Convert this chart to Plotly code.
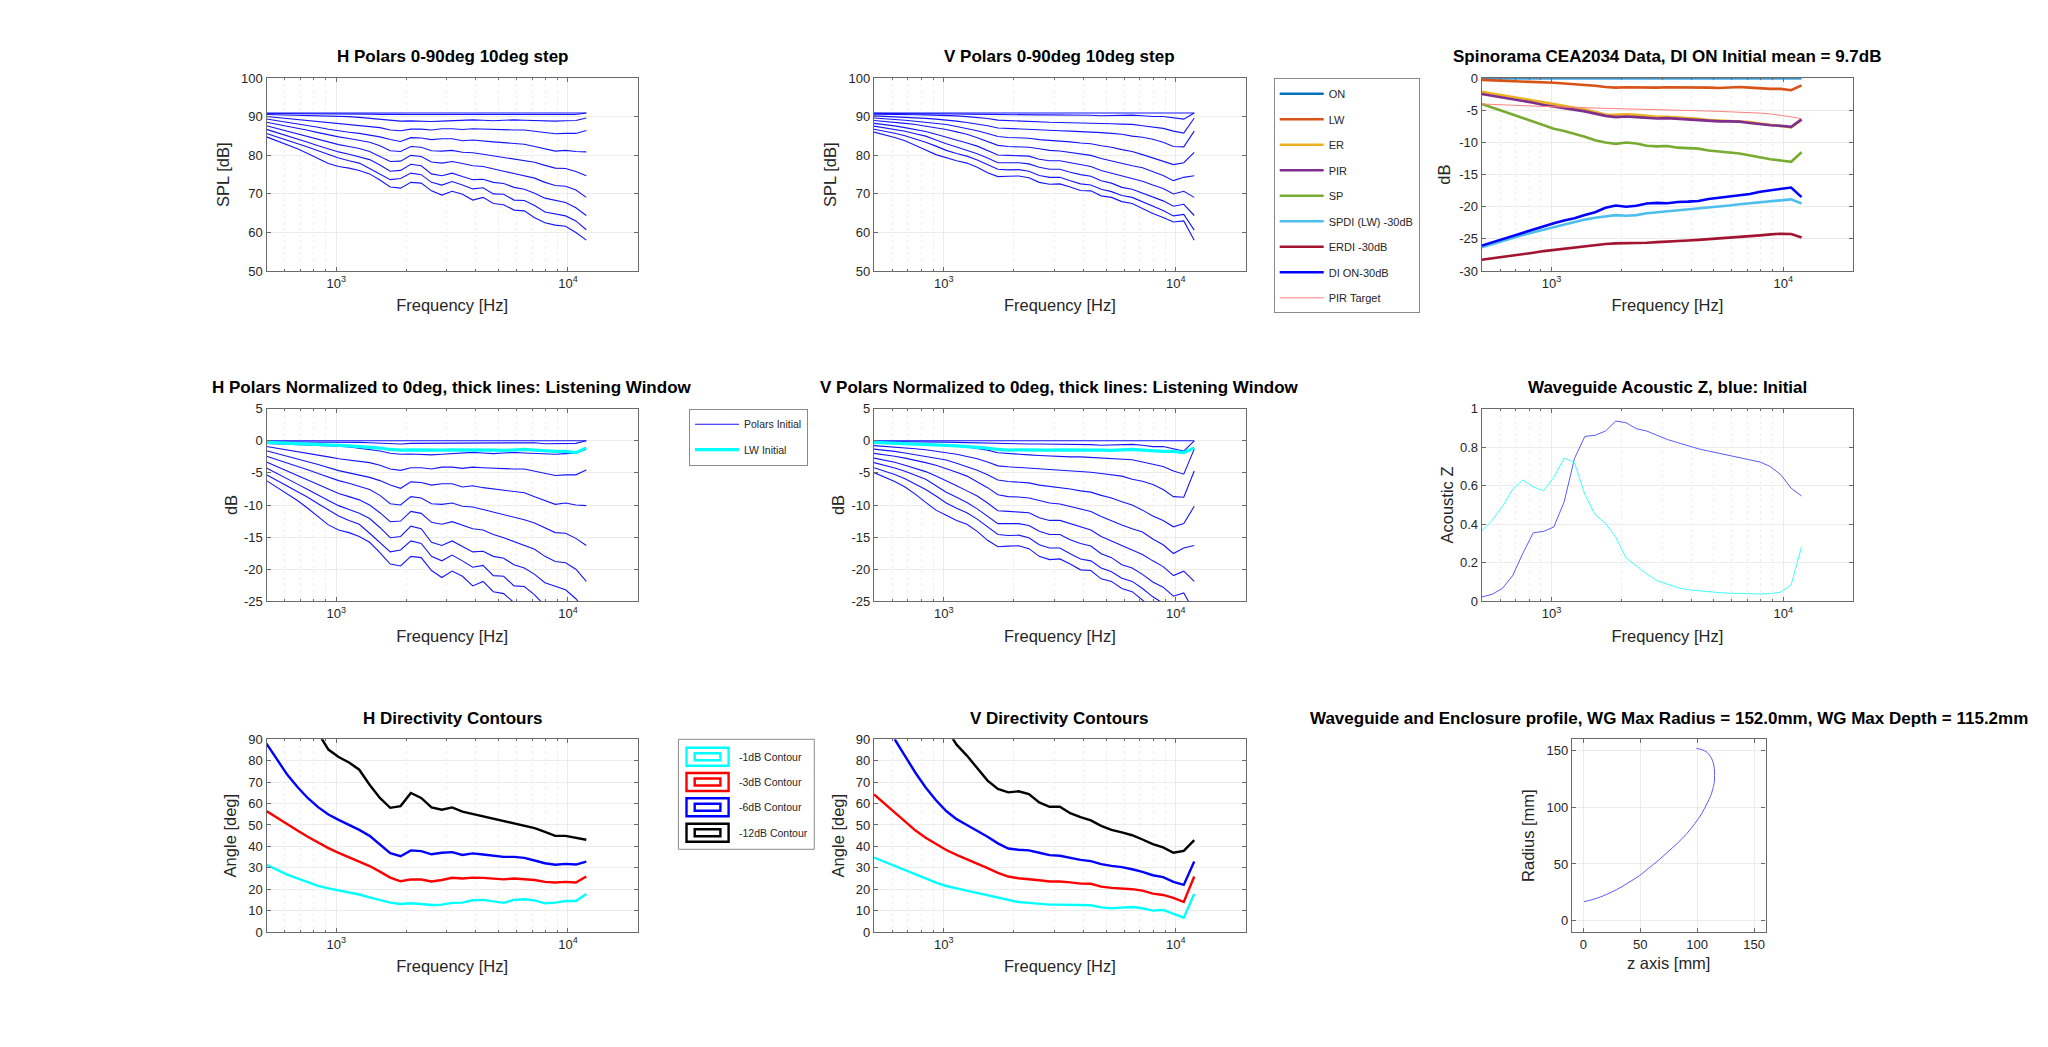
import plotly.graph_objects as go

W, H = 2048, 1047

# frequency points of the sweep, Hz
freq = [500, 554, 614, 680, 753, 835, 925, 1024, 1135, 1257, 1393, 1543, 1710, 1895, 2099, 2326,
        2577, 2855, 3163, 3504, 3882, 4301, 4765, 5279, 5849, 6480, 7179, 7954, 8812, 9763, 10817, 12000]

# horizontal polars, SPL dB, 0..90deg
h0 = [91.0] * 32
h10 = [90.85, 90.85, 90.85, 90.85, 90.85, 90.8, 90.8, 90.8, 90.8, 90.75, 90.7, 90.65, 90.6, 90.5, 90.6, 90.6,
       90.6, 90.6, 90.6, 90.7, 90.7, 90.7, 90.6, 90.6, 90.7, 90.7, 90.7, 90.55, 90.6, 90.6, 90.6, 91.0]
h20 = [90.6, 90.55, 90.5, 90.45, 90.4, 90.3, 90.2, 90.15, 90.05, 89.85, 89.6, 89.4, 89.05, 88.9, 88.95, 88.85,
       88.8, 88.9, 89.0, 89.1, 89.2, 89.1, 89.0, 89.1, 89.2, 89.1, 89.0, 88.95, 88.9, 89.0, 89.05, 89.7]
h30 = [90.1, 89.85, 89.6, 89.3, 89.05, 88.8, 88.5, 88.2, 88.0, 87.85, 87.6, 87.2, 86.6, 86.4, 86.8, 86.8,
       86.6, 86.9, 86.9, 86.7, 86.9, 86.8, 86.7, 86.6, 86.6, 86.6, 86.3, 85.9, 85.6, 85.7, 85.7, 86.45]
h40 = [89.45, 89.05, 88.6, 88.2, 87.75, 87.3, 86.8, 86.35, 86.0, 85.7, 85.3, 84.8, 84.1, 83.6, 84.6, 84.5,
       84.1, 84.3, 84.3, 83.8, 84.0, 83.7, 83.5, 83.3, 83.1, 82.9, 82.3, 81.7, 81.1, 81.3, 81.0, 80.9]
h50 = [88.6, 88.1, 87.6, 87.05, 86.5, 85.9, 85.3, 84.8, 84.4, 83.9, 83.4, 82.5, 81.2, 81.0, 82.3, 82.1,
       81.2, 81.1, 81.3, 80.8, 80.7, 80.3, 79.9, 79.6, 79.1, 78.7, 78.2, 77.4, 76.7, 76.6, 75.8, 74.7]
h60 = [87.7, 87.0, 86.3, 85.6, 84.9, 84.1, 83.4, 82.8, 82.3, 81.8, 81.0, 79.8, 78.4, 78.5, 80.0, 79.7,
       78.3, 78.0, 78.4, 77.9, 77.3, 77.1, 76.4, 75.9, 75.3, 74.7, 74.1, 73.0, 72.2, 72.0, 71.0, 69.1]
h70 = [86.75, 85.95, 85.1, 84.25, 83.4, 82.5, 81.7, 80.9, 80.3, 79.7, 78.9, 77.5, 75.9, 76.1, 77.7, 77.3,
       75.2, 74.7, 75.4, 74.5, 73.7, 73.8, 73.0, 72.7, 71.7, 71.2, 70.2, 68.9, 68.3, 67.8, 66.4, 64.4]
h80 = [85.7, 84.85, 84.0, 83.1, 82.2, 81.2, 80.2, 79.3, 78.6, 78.0, 76.6, 75.1, 73.7, 74.0, 75.4, 75.0,
       73.0, 72.3, 73.2, 72.3, 71.3, 71.6, 70.0, 69.9, 68.4, 68.3, 67.0, 65.3, 64.8, 64.3, 63.0, 60.7]
h90 = [84.8, 83.8, 82.8, 81.7, 80.5, 79.2, 77.9, 77.1, 76.7, 76.1, 75.2, 73.6, 71.8, 71.5, 73.0, 72.8,
       70.8, 69.7, 70.7, 69.9, 68.4, 69.1, 67.5, 67.2, 65.8, 65.6, 63.8, 62.5, 61.9, 61.6, 60.0, 58.0]

# vertical polars, SPL dB, 0..90deg
v0 = [91.0] * 32
v10 = [90.9, 90.9, 90.9, 90.85, 90.85, 90.8, 90.8, 90.8, 90.75, 90.7, 90.65, 90.6, 90.55, 90.5, 90.5, 90.5,
       90.5, 90.5, 90.5, 90.4, 90.45, 90.4, 90.3, 90.35, 90.4, 90.45, 90.3, 90.1, 90.1, 89.8, 89.4, 91.0]
v20 = [90.7, 90.7, 90.65, 90.6, 90.55, 90.5, 90.45, 90.4, 90.25, 90.05, 89.85, 89.55, 89.15, 89.0, 88.85, 88.8,
       88.7, 88.6, 88.55, 88.5, 88.5, 88.4, 88.25, 88.2, 88.1, 88.05, 87.7, 87.3, 87.0, 86.3, 85.8, 89.7]
v30 = [90.25, 90.15, 90.05, 89.9, 89.75, 89.6, 89.4, 89.2, 88.9, 88.55, 88.2, 87.7, 87.1, 86.95, 86.85, 86.75,
       86.6, 86.5, 86.4, 86.3, 86.2, 86.1, 85.9, 85.7, 85.5, 85.0, 84.7, 84.2, 83.4, 82.3, 82.2, 86.3]
v40 = [89.7, 89.55, 89.35, 89.1, 88.85, 88.6, 88.3, 88.0, 87.5, 87.0, 86.4, 85.7, 84.9, 84.65, 84.55, 84.45,
       84.1, 83.9, 83.8, 83.5, 83.2, 83.0, 82.5, 82.1, 81.5, 81.0, 80.2, 79.3, 78.6, 77.6, 78.1, 80.8]
v50 = [89.05, 88.85, 88.6, 88.3, 88.0, 87.6, 87.2, 86.7, 86.1, 85.5, 84.6, 83.7, 82.6, 82.3, 82.25, 82.1,
       81.7, 81.3, 81.15, 80.8, 80.4, 80.0, 79.2, 78.5, 77.9, 77.3, 76.8, 75.7, 74.8, 73.45, 74.3, 74.7]
v60 = [88.3, 88.0, 87.65, 87.2, 86.75, 86.2, 85.5, 84.8, 84.0, 83.2, 82.4, 81.3, 80.1, 80.0, 79.95, 79.8,
       79.0, 78.6, 78.6, 78.1, 77.5, 77.1, 76.1, 75.4, 74.6, 74.0, 73.3, 72.3, 71.4, 70.0, 70.7, 69.1]
v70 = [87.6, 87.2, 86.75, 86.25, 85.6, 85.0, 84.0, 83.0, 82.2, 81.4, 80.4, 79.3, 78.1, 78.1, 78.1, 77.8,
       76.9, 76.4, 76.4, 75.6, 75.0, 74.6, 73.4, 72.8, 71.7, 71.2, 70.2, 69.0, 68.2, 66.8, 67.3, 64.4]
v80 = [86.8, 86.3, 85.75, 85.1, 84.3, 83.4, 82.4, 81.3, 80.5, 79.8, 78.8, 77.6, 76.4, 76.25, 76.3, 75.9,
       74.8, 74.3, 74.3, 73.4, 72.6, 72.3, 71.2, 70.6, 69.6, 69.1, 68.0, 66.7, 65.7, 64.3, 64.7, 60.6]
v90 = [86.05, 85.4, 84.65, 83.8, 82.7, 81.4, 80.2, 79.4, 78.6, 78.0, 76.9, 75.5, 74.5, 74.6, 74.65, 74.2,
       73.0, 72.5, 72.6, 71.8, 70.9, 70.8, 69.5, 69.1, 68.0, 67.5, 66.1, 64.9, 63.9, 62.7, 63.0, 58.0]

h_polars = [h0, h10, h20, h30, h40, h50, h60, h70, h80, h90]
v_polars = [v0, v10, v20, v30, v40, v50, v60, v70, v80, v90]

# spinorama curves, dB
on = [0.0] * 32
lw = [-0.25, -0.3, -0.35, -0.4, -0.45, -0.5, -0.6, -0.7, -0.8, -0.9, -1.0, -1.15, -1.35, -1.45, -1.4, -1.45,
      -1.5, -1.45, -1.4, -1.4, -1.35, -1.4, -1.45, -1.5, -1.4, -1.35, -1.45, -1.6, -1.65, -1.65, -1.85, -1.1]
er = [-2.1, -2.35, -2.6, -2.85, -3.15, -3.45, -3.75, -4.0, -4.25, -4.5, -4.85, -5.25, -5.65, -5.7, -5.6, -5.7,
      -5.9, -6.0, -6.0, -6.1, -6.15, -6.3, -6.5, -6.6, -6.65, -6.7, -6.8, -7.05, -7.25, -7.4, -7.65, -6.5]
pir = [-2.45, -2.7, -2.95, -3.2, -3.5, -3.8, -4.15, -4.4, -4.6, -4.85, -5.15, -5.5, -5.85, -6.05, -5.95, -6.05,
       -6.2, -6.25, -6.2, -6.3, -6.4, -6.5, -6.65, -6.7, -6.7, -6.75, -6.95, -7.15, -7.3, -7.4, -7.55, -6.4]
sp = [-4.0, -4.5, -5.1, -5.65, -6.2, -6.85, -7.4, -7.85, -8.2, -8.6, -9.1, -9.65, -10.0, -10.2, -10.0, -10.15,
      -10.5, -10.6, -10.55, -10.8, -10.85, -10.95, -11.25, -11.45, -11.55, -11.7, -12.0, -12.4, -12.6, -12.8, -13.0, -11.5]
spdi = [-26.3, -25.8, -25.35, -24.9, -24.4, -23.95, -23.55, -23.1, -22.75, -22.4, -22.0, -21.7, -21.45, -21.3, -21.4, -21.3,
        -21.0, -20.85, -20.8, -20.55, -20.4, -20.3, -20.15, -20.0, -19.8, -19.6, -19.45, -19.25, -19.05, -18.9, -18.85, -19.5]
erdi = [-28.25, -28.05, -27.85, -27.65, -27.4, -27.15, -26.9, -26.7, -26.5, -26.3, -26.1, -25.95, -25.8, -25.7, -25.7, -25.7,
        -25.6, -25.5, -25.45, -25.35, -25.25, -25.15, -25.05, -24.95, -24.8, -24.7, -24.55, -24.45, -24.3, -24.2, -24.25, -24.8]
di_on = [-26.05, -25.55, -25.1, -24.6, -24.1, -23.55, -23.0, -22.55, -22.15, -21.8, -21.3, -20.85, -20.15, -19.8, -20.0, -19.85,
         -19.5, -19.4, -19.45, -19.25, -19.2, -19.1, -18.8, -18.6, -18.5, -18.3, -18.0, -17.65, -17.45, -17.2, -17.0, -18.5]
pir_target = [-4.0, -4.08, -4.15, -4.2, -4.27, -4.33, -4.38, -4.43, -4.5, -4.55, -4.6, -4.65, -4.68, -4.72, -4.75, -4.8,
              -4.85, -4.9, -4.95, -5.0, -5.03, -5.07, -5.1, -5.15, -5.2, -5.27, -5.33, -5.42, -5.55, -5.75, -6.0, -6.3]

# acoustic impedance
z_blue = [0.022, 0.036, 0.067, 0.133, 0.25, 0.356, 0.363, 0.386, 0.517, 0.742, 0.856, 0.862, 0.884, 0.936, 0.927, 0.896,
          0.884, 0.862, 0.84, 0.824, 0.806, 0.792, 0.78, 0.768, 0.758, 0.746, 0.734, 0.723, 0.699, 0.657, 0.587, 0.547]
z_cyan = [0.365, 0.42, 0.491, 0.581, 0.63, 0.593, 0.574, 0.644, 0.744, 0.72, 0.555, 0.45, 0.405, 0.332, 0.225, 0.183,
          0.142, 0.107, 0.09, 0.071, 0.06, 0.054, 0.048, 0.045, 0.042, 0.04, 0.04, 0.038, 0.04, 0.048, 0.085, 0.284]

# directivity contours, deg
h_c1 = [31.4, 29.0, 26.8, 25.0, 23.1, 21.5, 20.4, 19.5, 18.4, 17.5, 16.2, 14.8, 13.7, 13.1, 13.4, 13.1,
        12.6, 12.8, 13.6, 13.7, 14.8, 15.0, 14.2, 13.6, 15.0, 15.3, 14.8, 13.4, 13.7, 14.5, 14.5, 17.8]
h_c3 = [56.5, 53.4, 50.2, 47.4, 44.5, 41.8, 39.2, 37.0, 35.0, 33.0, 30.8, 28.2, 25.4, 23.7, 24.6, 24.5,
        23.6, 24.3, 25.3, 25.0, 25.4, 25.3, 25.1, 24.6, 25.0, 24.8, 24.3, 23.4, 23.1, 23.4, 23.1, 25.9]
h_c6 = [88.0, 80.5, 73.5, 67.7, 62.6, 58.3, 54.9, 52.4, 50.1, 47.7, 44.9, 40.7, 36.8, 35.4, 38.1, 37.8,
        36.3, 37.0, 37.3, 36.0, 36.7, 36.2, 35.7, 35.1, 35.1, 34.6, 33.4, 32.1, 31.4, 31.8, 31.5, 32.9]
h_c12 = [None, None, None, None, None, 93.0, 85.2, 81.7, 79.2, 75.8, 68.8, 62.6, 58.0, 58.8, 64.9, 62.6,
         58.2, 57.1, 58.2, 56.2, 55.1, 54.1, 53.0, 52.0, 50.9, 49.9, 48.5, 46.8, 44.9, 44.9, 44.0, 43.1]
v_c1 = [34.8, 32.8, 30.7, 28.7, 26.8, 25.0, 23.1, 21.5, 20.4, 19.3, 18.3, 17.2, 16.1, 14.8, 14.0, 13.6,
        13.1, 12.8, 12.8, 12.6, 12.6, 12.5, 11.5, 11.1, 11.4, 11.7, 11.1, 10.0, 10.3, 8.6, 6.7, 17.8]
v_c3 = [64.3, 60.0, 55.6, 51.4, 47.5, 44.0, 41.0, 38.3, 36.0, 34.0, 32.0, 29.8, 27.6, 25.9, 25.1, 24.8,
        24.2, 23.6, 23.6, 23.2, 22.6, 22.5, 21.2, 20.6, 20.3, 20.0, 19.3, 17.9, 17.3, 15.9, 14.0, 25.9]
v_c6 = [None, None, 90.0, 82.0, 74.5, 67.5, 61.5, 56.5, 52.7, 50.0, 47.3, 44.5, 41.4, 39.0, 38.4, 38.1,
        37.0, 35.9, 35.6, 34.6, 33.7, 33.1, 31.7, 30.9, 30.3, 29.3, 28.1, 26.5, 25.6, 23.4, 22.0, 32.9]
v_c12 = [None, None, None, None, None, None, None, 95.0, 87.5, 82.4, 76.6, 70.7, 66.8, 65.2, 65.7, 64.4,
         60.5, 58.5, 58.5, 55.5, 53.7, 52.1, 49.6, 47.7, 46.5, 45.2, 43.2, 41.0, 39.5, 37.0, 37.9, 42.9]

# waveguide profile, mm
profile_z = [0.5, 5, 10, 15, 20, 26, 32, 40, 49, 57, 66, 74, 83, 91, 98, 104, 108.6, 112, 114.2, 115, 115.2,
             115, 113.8, 111.5, 108.6, 104.5, 99.3]
profile_r = [16.8, 17.8, 19.2, 20.9, 23, 25.8, 28.9, 33.8, 39.5, 46, 53.3, 60.5, 68.7, 77, 85.8, 94.5, 103.4,
             110.5, 118.2, 122, 128, 134, 140.3, 145, 148.5, 150.7, 152]

# tick labels
freq_ticks = [1000, 10000]
freq_labels = ['10<sup>3</sup>', '10<sup>4</sup>']
freq_minor = [600, 700, 800, 900, 2000, 3000, 4000, 5000, 6000, 7000, 8000, 9000]
spl_ticks = [50, 60, 70, 80, 90, 100]
spin_ticks = [-30, -25, -20, -15, -10, -5, 0]
norm_ticks = [-25, -20, -15, -10, -5, 0, 5]
z_ticks = [0, 0.2, 0.4, 0.6, 0.8, 1]
angle_ticks = [0, 10, 20, 30, 40, 50, 60, 70, 80, 90]
profile_ticks = [0, 50, 100, 150]

FONT = 'Liberation Sans'
TEXT = '#262626'
BOX = '#6a6a6a'
GRID = '#ececec'
POLAR = '#1414ff'

# axes boxes in pixels of the page: left, right, top, bottom
COL_X = [(266.5, 637.7), (874, 1245.7), (1481.7, 1853)]
ROW_Y = [(78.3, 271), (408.7, 601.3), (739.3, 932)]
PROFILE_X = (1572, 1765.5)


def tick_text(vals):
    return [str(v) for v in vals]


fig = go.Figure()


def set_axes(n, box_x, box_y, yticks, yrange, xtitle, ytitle, ystandoff=7, log_x=True):
    xa = dict(
        domain=[box_x[0] / W, box_x[1] / W],
        anchor=f'y{n}',
        showline=True, linecolor=BOX, linewidth=1.2, mirror='ticks',
        ticks='inside', ticklen=4, tickcolor=BOX,
        showgrid=True, gridcolor=GRID, gridwidth=1, zeroline=False,
        tickfont=dict(family=FONT, size=13, color=TEXT),
        title=dict(text=xtitle, font=dict(family=FONT, size=16.5, color=TEXT)),
    )
    if log_x:
        xa.update(
            type='log', range=[2.699, 4.301],
            tickvals=freq_ticks, ticktext=freq_labels,
            title_standoff=9.5,
            minor=dict(tickvals=freq_minor, ticks='inside', ticklen=2, tickcolor=BOX,
                       showgrid=True, gridcolor='#efefef', griddash='dot', gridwidth=1),
        )
    else:
        xa.update(range=[-10, 160], tickvals=profile_ticks, ticktext=tick_text(profile_ticks), title_standoff=6)
    ya = dict(
        domain=[1 - box_y[1] / H, 1 - box_y[0] / H],
        anchor=f'x{n}',
        range=yrange,
        tickvals=yticks, ticktext=tick_text(yticks),
        showline=True, linecolor=BOX, linewidth=1.2, mirror='ticks',
        ticks='inside', ticklen=4, tickcolor=BOX,
        showgrid=True, gridcolor=GRID, gridwidth=1, zeroline=False,
        tickfont=dict(family=FONT, size=13, color=TEXT),
        title=dict(text=ytitle, font=dict(family=FONT, size=16.5, color=TEXT), standoff=ystandoff),
    )
    suffix = '' if n == 1 else str(n)
    fig.update_layout({'xaxis' + suffix: xa, 'yaxis' + suffix: ya})


def add_line(n, x, y, color, width, name=None, legend=None, shape='linear'):
    suffix = '' if n == 1 else str(n)
    fig.add_trace(go.Scatter(
        x=x, y=y, mode='lines', xaxis='x' + suffix, yaxis='y' + suffix,
        line=dict(color=color, width=width, shape=shape),
        name=name, legendgroup=name,
        showlegend=legend is not None, legend=legend,
    ))


# row 1
set_axes(1, COL_X[0], ROW_Y[0], spl_ticks, [50, 100], 'Frequency [Hz]', 'SPL [dB]')
set_axes(2, COL_X[1], ROW_Y[0], spl_ticks, [50, 100], 'Frequency [Hz]', 'SPL [dB]')
set_axes(3, COL_X[2], ROW_Y[0], spin_ticks, [-30, 0], 'Frequency [Hz]', 'dB', ystandoff=4)
# row 2
set_axes(4, COL_X[0], ROW_Y[1], norm_ticks, [-25, 5], 'Frequency [Hz]', 'dB', ystandoff=2)
set_axes(5, COL_X[1], ROW_Y[1], norm_ticks, [-25, 5], 'Frequency [Hz]', 'dB', ystandoff=2)
set_axes(6, COL_X[2], ROW_Y[1], z_ticks, [0, 1], 'Frequency [Hz]', 'Acoustic Z', ystandoff=2)
# row 3
set_axes(7, COL_X[0], ROW_Y[2], angle_ticks, [0, 90], 'Frequency [Hz]', 'Angle [deg]')
set_axes(8, COL_X[1], ROW_Y[2], angle_ticks, [0, 90], 'Frequency [Hz]', 'Angle [deg]')
set_axes(9, PROFILE_X, ROW_Y[2], profile_ticks, [-10, 160], 'z axis [mm]', 'Radius [mm]', log_x=False)

for curve in h_polars:
    add_line(1, freq, curve, POLAR, 1.1)
for curve in v_polars:
    add_line(2, freq, curve, POLAR, 1.1)

spin_series = [
    ('ON', on, '#0072BD', 2.6), ('LW', lw, '#D95319', 2.6), ('ER', er, '#EDB120', 2.6),
    ('PIR', pir, '#7E2F8E', 2.6), ('SP', sp, '#77AC30', 2.6), ('SPDI (LW) -30dB', spdi, '#4DBEEE', 2.6),
    ('ERDI -30dB', erdi, '#A2142F', 2.6), ('DI ON-30dB', di_on, '#0000FF', 2.6), ('PIR Target', pir_target, '#FF8080', 1),
]
for name, curve, color, width in spin_series:
    add_line(3, freq, curve, color, width, name=name, legend='legend')

# normalized polars, reference is the 0deg curve
for i, curve in enumerate(h_polars):
    norm = [a - b for a, b in zip(curve, h0)]
    if i == 0:
        add_line(4, freq, norm, POLAR, 1.1, name='Polars Initial', legend='legend2')
    else:
        add_line(4, freq, norm, POLAR, 1.1)
add_line(4, freq, lw, '#00ffff', 3.2, name='LW Initial', legend='legend2')
for curve in v_polars:
    add_line(5, freq, [a - b for a, b in zip(curve, v0)], POLAR, 1.1)
add_line(5, freq, lw, '#00ffff', 3.2)

add_line(6, freq, z_blue, '#5a5aff', 1)
add_line(6, freq, z_cyan, '#40ffff', 1)

for curve, color in [(h_c1, '#00ffff'), (h_c3, '#ff0000'), (h_c6, '#0000ff'), (h_c12, '#000000')]:
    add_line(7, freq, curve, color, 2.4)
for curve, color in [(v_c1, '#00ffff'), (v_c3, '#ff0000'), (v_c6, '#0000ff'), (v_c12, '#000000')]:
    add_line(8, freq, curve, color, 2.4)

add_line(9, profile_z, profile_r, '#5a5aff', 1, shape='spline')

# subplot titles
titles = [
    ('H Polars 0-90deg 10deg step', COL_X[0], 56.7),
    ('V Polars 0-90deg 10deg step', COL_X[1], 56.7),
    ('Spinorama CEA2034 Data, DI ON Initial mean = 9.7dB', COL_X[2], 56.7),
    ('H Polars Normalized to 0deg, thick lines: Listening Window', COL_X[0], 387.3),
    ('V Polars Normalized to 0deg, thick lines: Listening Window', COL_X[1], 387.3),
    ('Waveguide Acoustic Z, blue: Initial', COL_X[2], 387.3),
    ('H Directivity Contours', COL_X[0], 718.3),
    ('V Directivity Contours', COL_X[1], 718.3),
    ('Waveguide and Enclosure profile, WG Max Radius = 152.0mm, WG Max Depth = 115.2mm', PROFILE_X, 718.3),
]
for text, bx, py in titles:
    fig.add_annotation(
        xref='paper', yref='paper', x=(bx[0] + bx[1]) / 2 / W, y=1 - py / H,
        xanchor='center', yanchor='middle', showarrow=False,
        text=f'<b>{text}</b>', font=dict(family=FONT, size=17, color='#000000'),
    )

# contour legend, the outline swatches are not available as a legend key
contour_names = ['-1dB Contour', '-3dB Contour', '-6dB Contour', '-12dB Contour']
contour_colors = ['#00ffff', '#ff0000', '#0000ff', '#000000']
contour_rows = [756.7, 782, 807.3, 832.7]


def page_rect(x0, x1, y0, y1, color, width):
    fig.add_shape(type='rect', xref='paper', yref='paper',
                  x0=x0 / W, x1=x1 / W, y0=1 - y0 / H, y1=1 - y1 / H,
                  line=dict(color=color, width=width), fillcolor='rgba(0,0,0,0)')


page_rect(678.4, 814.3, 739.3, 849.3, '#8a8a8a', 1)
for name, color, cy in zip(contour_names, contour_colors, contour_rows):
    page_rect(686.5, 728.6, cy - 9, cy + 9, color, 2.4)
    page_rect(694.7, 720.4, cy - 3.5, cy + 3.5, color, 2.4)
    fig.add_annotation(xref='paper', yref='paper', x=736.7 / W, y=1 - cy / H,
                       xanchor='left', yanchor='middle', showarrow=False, text=name,
                       font=dict(family=FONT, size=10.5, color=TEXT))

legend_base = dict(
    xanchor='left', yanchor='top', bgcolor='white', bordercolor='#8a8a8a', borderwidth=1,
    itemwidth=44, itemclick=False, traceorder='grouped', tracegroupgap=6.5,
)
fig.update_layout(
    width=W, height=H,
    margin=dict(l=0, r=0, t=0, b=0, autoexpand=False),
    paper_bgcolor='white', plot_bgcolor='white',
    showlegend=True,
    legend=dict(legend_base, x=1273.7 / W, y=1 - 78.3 / H, font=dict(family=FONT, size=11, color=TEXT)),
    legend2=dict(legend_base, x=689 / W, y=1 - 408.7 / H, font=dict(family=FONT, size=10.5, color=TEXT)),
)

fig.write_html("out.html", config={'displayModeBar': False}, post_script="document.body.style.margin='0';")
